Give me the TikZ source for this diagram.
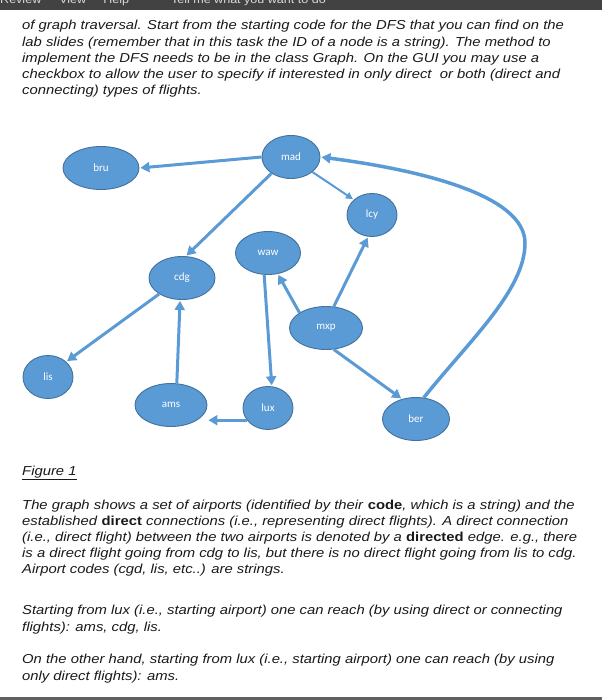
\documentclass[tikz,border=0pt]{standalone}
\usepackage{fontspec}
\setmainfont[FakeStretch=1.14]{Liberation Sans}
\newfontfamily\airportfont{Carlito}
\usetikzlibrary{shapes.geometric,arrows.meta}
\definecolor{nodeblue}{RGB}{91,155,213}
\definecolor{nodeedge}{RGB}{65,113,156}
\definecolor{menubar}{RGB}{66,66,66}
\definecolor{statusbar}{RGB}{96,96,96}
\begin{document}
\begin{tikzpicture}[x=1pt, y=-1pt,
    airport/.style={ellipse, draw=nodeedge, line width=0.9pt, fill=nodeblue, text=white,
      font=\airportfont\fontsize{11}{13}\selectfont, minimum height=43pt, inner sep=0pt},
    flight/.style={draw=nodeblue, line width=3pt, -{Triangle[length=9pt,width=10pt]}, shorten >=1pt},
    para/.style={anchor=base west, align=left, inner sep=0pt, text=black!90,
      font=\fontsize{13}{16.3}\selectfont\itshape}]
  \useasboundingbox (0,0) rectangle (602,700);
  % window chrome: menu bar on top, status bar below
  \fill[menubar] (0,0) rectangle (602,10);
  \begin{scope}
    \clip (0,0) rectangle (602,10);
    \node[anchor=base west, inner sep=0pt, text=white!85!black, font=\fontsize{11}{13}\selectfont] (menu) at (0,4)
      {Review\hspace{18pt}View\hspace{17pt}Help\hspace{42pt}Tell me what you want to do};
  \end{scope}
  \fill[statusbar] (0,697) rectangle (602,700);
  % the assignment text above the figure (base = last line)
  \node[para] (intro) at (22,95) {of graph traversal. Start from the starting code for the DFS that you can find on the\\
    lab slides (remember that in this task the ID of a node is a string). The method to\\
    implement the DFS needs to be in the class Graph. On the GUI you may use a\\
    checkbox to allow the user to specify if interested in only direct\ \ or both (direct and\\
    connecting) types of flights.};
  % airports
  \node[airport, minimum width=76pt] (bru) at (101,168) {bru};
  \node[airport, minimum width=58pt] (mad) at (291,157) {mad};
  \node[airport, minimum width=50pt] (lcy) at (372,215) {lcy};
  \node[airport, minimum width=65pt] (waw) at (268,253) {waw};
  \node[airport, minimum width=66pt] (cdg) at (182,278) {cdg};
  \node[airport, minimum width=73pt] (mxp) at (326,328) {mxp};
  \node[airport, minimum width=50pt] (lis) at (48,377) {lis};
  \node[airport, minimum width=72pt] (ams) at (171,405) {ams};
  \node[airport, minimum width=50pt] (lux) at (268,408) {lux};
  \node[airport, minimum width=67pt] (ber) at (416,419) {ber};
  % direct flights
  \draw[flight] (mad.west) -- (bru.east);
  \draw[flight] (mad.220) -- (cdg.80);
  \draw[flight, line width=2pt, -{Triangle[length=7pt,width=7pt]}] (mad.-35) -- (lcy.140);
  \draw[flight, line width=3.5pt] (ber.70) .. controls (470,340) and (525,290) .. (525,243)
    .. controls (525,195) and (420,170) .. (mad.east);
  \draw[flight] (mxp.70) -- (lcy.-100);
  \draw[flight] (mxp.150) -- (waw.-65);
  \draw[flight] (waw.-100) -- (lux.80);
  \draw[flight] (lux.-150) -- (lux.-150 -| ams.east);
  \draw[flight] (ams.75) -- (cdg.-95);
  \draw[flight] (cdg.-145) -- (lis.40);
  \draw[flight] (mxp.-70) -- (ber.125);
  % caption and explanation
  \node[para] (caption) at (22,475) {\underline{Figure 1}};
  \node[para, font=\fontsize{13}{16}\selectfont\itshape] (graphtext) at (22,573)
    {The graph shows a set of airports (identified by their \textup{\textbf{code}}, which is a string) and the\\
    established \textup{\textbf{direct}} connections (i.e., representing direct flights). A direct connection\\
    (i.e., direct flight) between the two airports is denoted by a \textup{\textbf{directed}} edge. e.g., there\\
    is a direct flight going from cdg to lis, but there is no direct flight going from lis to cdg.\\
    Airport codes (cgd, lis, etc..) are strings.};
  \node[para, font=\fontsize{13}{16.5}\selectfont\itshape] (connecting) at (22,631)
    {Starting from lux (i.e., starting airport) one can reach (by using direct or connecting\\
    flights): ams, cdg, lis.};
  \node[para, font=\fontsize{13}{16.5}\selectfont\itshape] (direct) at (22,680)
    {On the other hand, starting from lux (i.e., starting airport) one can reach (by using\\
    only direct flights): ams.};
\end{tikzpicture}
\end{document}
